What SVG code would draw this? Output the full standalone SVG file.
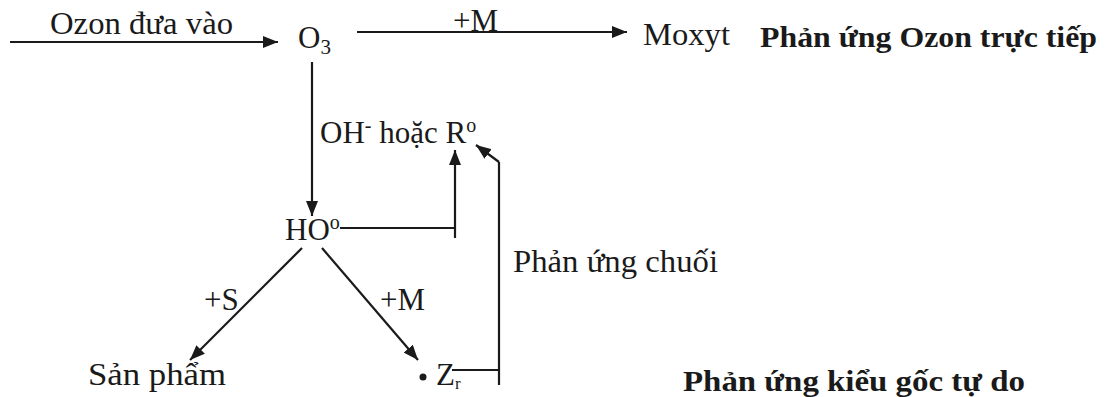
<svg xmlns="http://www.w3.org/2000/svg" width="1111" height="397" viewBox="0 0 1111 397">
<style>
.t{font-family:"Liberation Serif","Times New Roman",serif;font-size:31px;fill:#1a1a1a}
.b{font-weight:bold;font-size:30px}
.ln{stroke:#1a1a1a;stroke-width:2.2;fill:none}
</style>
<defs>
<marker id="ah" markerUnits="userSpaceOnUse" markerWidth="16" markerHeight="12" refX="15" refY="6" orient="auto">
<path d="M0,0 L15,6 L0,12 z" fill="#1a1a1a"/>
</marker>
</defs>
<rect width="1111" height="397" fill="#ffffff"/>
<g id="connectors">
<line class="ln" x1="10" y1="42" x2="278" y2="42" marker-end="url(#ah)"/>
<line class="ln" x1="357" y1="32" x2="627" y2="32" marker-end="url(#ah)"/>
<line class="ln" x1="312" y1="62" x2="312" y2="216" marker-end="url(#ah)"/>
<polyline class="ln" points="340,228 455,228"/>
<line class="ln" x1="455" y1="238" x2="455" y2="150" marker-end="url(#ah)"/>
<polyline class="ln" points="452,370 499,370"/>
<line class="ln" x1="499" y1="385" x2="499" y2="162"/>
<line class="ln" x1="499" y1="162" x2="476" y2="145" marker-end="url(#ah)"/>
<line class="ln" x1="302" y1="248" x2="190" y2="360" marker-end="url(#ah)"/>
<line class="ln" x1="322" y1="248" x2="418" y2="360" marker-end="url(#ah)"/>
</g>
<g id="label-ozon"><text class="t" x="50" y="34" textLength="183" lengthAdjust="spacingAndGlyphs">Ozon đưa vào</text></g>
<g id="node-o3"><text class="t" x="298" y="48">O<tspan font-size="21" dy="6">3</tspan></text></g>
<g id="label-m1"><text class="t" x="453" y="31">+M</text></g>
<g id="node-moxyt"><text class="t" x="643" y="45" textLength="87" lengthAdjust="spacingAndGlyphs">Moxyt</text></g>
<g id="title-direct"><text class="t b" x="760" y="47" textLength="337" lengthAdjust="spacingAndGlyphs">Phản ứng Ozon trực tiếp</text></g>
<g id="node-ohr"><text class="t" x="320" y="143">OH<tspan font-size="20" dy="-11">-</tspan><tspan dy="11"> hoặc R</tspan><tspan font-size="20" dy="-11">o</tspan></text></g>
<g id="node-ho"><text class="t" x="285" y="240">HO<tspan font-size="20" dy="-11">o</tspan></text></g>
<g id="label-chain"><text class="t" x="513" y="272" textLength="205" lengthAdjust="spacingAndGlyphs">Phản ứng chuối</text></g>
<g id="label-s"><text class="t" x="204" y="310">+S</text></g>
<g id="label-m2"><text class="t" x="380" y="310">+M</text></g>
<g id="node-product"><text class="t" x="88" y="385" textLength="138" lengthAdjust="spacingAndGlyphs">Sản phẩm</text></g>
<g id="node-zr"><circle cx="423" cy="377" r="3.5" fill="#1a1a1a"/><text class="t" x="436" y="385">Z<tspan font-size="17" dy="4">r</tspan></text></g>
<g id="title-radical"><text class="t b" x="683" y="391" textLength="342" lengthAdjust="spacingAndGlyphs">Phản ứng kiểu gốc tự do</text></g>
</svg>
